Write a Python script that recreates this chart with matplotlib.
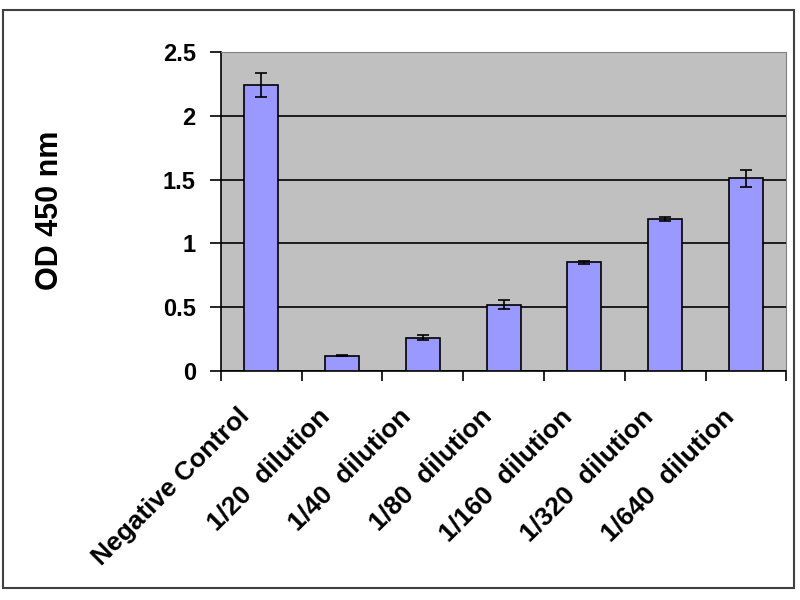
import matplotlib.pyplot as plt
import numpy as np

categories = ['Negative Control', '1/20  dilution', '1/40  dilution', '1/80  dilution',
              '1/160  dilution', '1/320  dilution', '1/640  dilution']
od_values = [2.24, 0.12, 0.26, 0.52, 0.85, 1.19, 1.51]
od_errors = [0.095, 0.005, 0.02, 0.035, 0.015, 0.015, 0.065]

plt.rcParams['font.family'] = ['Liberation Sans', 'DejaVu Sans']
plt.rcParams['font.weight'] = 'bold'

fig = plt.figure(figsize=(8, 6), dpi=100)
ax = fig.add_axes([0.276, 0.382, 0.707, 0.531])
ax.set_facecolor('#c0c0c0')

x = np.arange(len(categories))
ax.bar(x, od_values, width=0.42, color='#9999ff', edgecolor='black', linewidth=1.2, zorder=3)
ax.errorbar(x, od_values, yerr=od_errors, fmt='none', ecolor='black', elinewidth=1.2,
            capsize=4, capthick=1.2, zorder=4)

ax.set_ylim(0, 2.5)
ax.set_xlim(-0.5, len(categories) - 0.5)
ax.set_yticks([0, 0.5, 1, 1.5, 2, 2.5])
ax.set_yticklabels(['0', '0.5', '1', '1.5', '2', '2.5'], fontsize=17, fontweight='bold')
ax.yaxis.grid(True, color='black', linewidth=1.2, zorder=1)
ax.set_axisbelow(True)
ax.tick_params(axis='y', direction='out', length=8, width=1.2, pad=10)

# labels sit a little left of the bar centre, like Excel does
ax.set_xticks(x - 0.3)
ax.set_xticklabels(categories, rotation=45, ha='right', rotation_mode='anchor',
                   fontsize=19, fontweight='bold')
ax.set_xticks(np.arange(-0.5, len(categories)), minor=True)
ax.tick_params(axis='x', which='major', length=0, pad=24)
ax.tick_params(axis='x', which='minor', direction='out', length=7, width=1.2)

ax.set_ylabel('OD 450 nm', fontsize=22, fontweight='bold')
ax.yaxis.set_label_coords(-0.275, 0.505)

ax.spines['left'].set_linewidth(1.2)
ax.spines['bottom'].set_linewidth(1.2)
ax.spines['top'].set_color('#808080')
ax.spines['right'].set_color('#808080')

fig.patches.append(plt.Rectangle((0.004, 0.02), 0.988, 0.963, transform=fig.transFigure,
                                 fill=False, edgecolor='#404040', linewidth=1.5))

fig.savefig('out.png', dpi=100)
